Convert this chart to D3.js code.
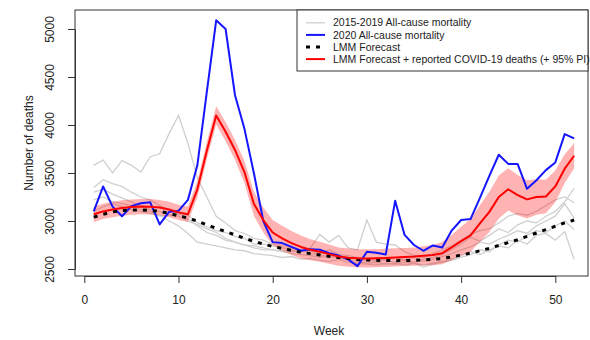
<!DOCTYPE html>
<html>
<head>
<meta charset="utf-8">
<script src="https://cdn.jsdelivr.net/npm/d3@7"></script>
<style>
  body { margin: 0; background: #fff; }
  svg { display: block; font-family: "Liberation Sans", Arial, sans-serif; }
</style>
</head>
<body>
<div id="chart"></div>
<script>
// ---- data ----
const weeks = d3.range(1, 53);

// 2015-2019 all-cause mortality, one array per year
const past1 = [3580,3635,3500,3630,3580,3510,3670,3700,3910,4100,3810,3450,3250,3050,2980,2900,2870,2820,2800,2760,
               2740,2720,2700,2690,2660,2700,2650,2640,2620,2600,2580,2600,2620,2590,2570,2600,2620,2650,2700,2760,
               2830,2790,2850,2920,2880,2960,3000,2980,3050,3100,3200,3340];
const past2 = [3350,3430,3390,3360,3300,3250,3220,3160,3120,3080,3060,2980,2940,2900,2880,2840,2820,2760,2760,2740,
               2720,2700,2680,2720,2860,2780,2850,2720,2700,3010,2780,2760,2750,2680,2640,2620,2660,2700,2740,2800,
               2860,2900,2920,2980,3050,3080,3060,3100,3160,3220,3250,3190];
const past3 = [3300,3330,3280,3240,3200,3150,3120,3100,3060,3050,3000,2960,2920,2880,2820,2780,2750,2720,2700,2700,
               2680,2660,2650,2640,2620,2640,2610,2600,2620,2580,2600,2590,2570,2600,2620,2580,2600,2630,2660,2700,
               2730,2780,2760,2810,2850,2900,2870,2950,3000,3050,3180,3030];
const past4 = [3220,3250,3200,3180,3160,3120,3100,3060,3000,2950,2870,2780,2760,2740,2720,2700,2690,2660,2650,2640,
               2620,2630,2600,2610,2590,2580,2600,2570,2560,2550,2540,2560,2550,2570,2560,2540,2560,2580,2600,2640,
               2680,2650,2700,2740,2720,2800,2760,2850,2870,2800,2890,2600];
const past5 = [3100,3150,3180,3150,3120,3100,3080,3050,3060,3080,3020,2950,2880,2850,2800,2780,2750,2740,2720,2700,
               2690,2680,2700,2660,2650,2620,2640,2600,2580,2560,2570,2550,2560,2540,2560,2520,2550,2570,2590,2620,
               2650,2700,2680,2750,2800,2780,2850,2900,2880,2950,3000,2910];

// 2020 all-cause mortality
const deaths2020 = [3100,3360,3150,3050,3155,3185,3195,2965,3095,3105,3220,3580,4340,5090,5000,4310,3960,3500,3000,2780,
                    2770,2730,2690,2705,2700,2665,2640,2600,2530,2680,2670,2650,3210,2855,2750,2690,2745,2725,2900,3010,
                    3020,3240,3470,3690,3595,3595,3335,3425,3530,3610,3905,3860];

// LMM forecast
const lmmForecast = [3040,3070,3095,3110,3115,3115,3110,3100,3080,3055,3030,3000,2960,2925,2890,2855,2820,2790,2760,2735,
                     2715,2695,2675,2660,2645,2632,2620,2610,2600,2595,2590,2588,2587,2588,2590,2595,2600,2610,2625,2645,
                     2665,2690,2715,2745,2775,2805,2840,2875,2910,2945,2980,3010];

// LMM forecast + reported COVID-19 deaths, and its 95% PI
const lmmCovid = [3070,3100,3120,3135,3145,3150,3148,3140,3120,3090,3070,3330,3730,4100,3930,3740,3510,3180,3010,2880,
                  2820,2770,2730,2700,2680,2655,2630,2618,2612,2610,2612,2615,2620,2625,2630,2638,2645,2665,2725,2790,
                  2850,2975,3095,3250,3330,3270,3225,3250,3255,3360,3545,3680];
const piLower = [2990,3020,3040,3055,3065,3070,3068,3060,3040,3010,2990,3245,3640,4005,3830,3635,3395,3055,2880,2750,
                 2690,2645,2610,2590,2575,2555,2535,2523,2517,2515,2517,2520,2525,2530,2535,2538,2540,2550,2595,2640,
                 2680,2785,2885,3025,3110,3060,3025,3065,3080,3195,3395,3550];
const piUpper = [3150,3180,3200,3215,3225,3230,3228,3220,3200,3170,3150,3415,3820,4195,4030,3845,3625,3305,3140,3010,
                 2950,2895,2850,2810,2785,2755,2725,2713,2707,2705,2707,2710,2715,2720,2725,2738,2750,2780,2855,2940,
                 3020,3165,3305,3475,3550,3480,3425,3435,3430,3525,3695,3810];

const xTicks = [0, 10, 20, 30, 40, 50];
const yTicks = [2500, 3000, 3500, 4000, 4500, 5000];

const legendItems = [
  { label: "2015-2019 All-cause mortality", color: "#cfcfcf", width: 1.3, dash: null },
  { label: "2020 All-cause mortality", color: "#1515ff", width: 2, dash: null },
  { label: "LMM Forecast", color: "#000", width: 3, dash: "4,6" },
  { label: "LMM Forecast + reported COVID-19 deaths (+ 95% PI)", color: "#ff0000", width: 2, dash: null },
];

// ---- layout ----
const W = 590, H = 340;
const box = { left: 75, top: 10, right: 588, bottom: 276 };

const x = d3.scaleLinear().domain([0, 50]).range([84.3, 555.3]);
const y = d3.scaleLinear().domain([2500, 5000]).range([269, 29]);

const svg = d3.select("#chart")
  .append("svg")
  .attr("width", W)
  .attr("height", H)
  ;

// series as lines
const line = d3.line()
  .x((d, i) => x(weeks[i]))
  .y(d => y(d))
  ;

const band = d3.area()
  .x((d, i) => x(weeks[i]))
  .y0((d, i) => y(piLower[i]))
  .y1((d, i) => y(piUpper[i]))
  ;

// grey past years first so they sit at the bottom
svg.append("g")
  .attr("class", "past")
  .selectAll("path")
  .data([past1, past2, past3, past4, past5])
  .join("path")
    .attr("d", line)
    .attr("fill", "none")
    .attr("stroke", "#cfcfcf")
    .attr("stroke-width", 1.3)
  ;

// prediction interval
svg.append("path")
  .attr("d", band(lmmCovid))
  .attr("fill", "rgba(255,20,20,0.32)")
  .attr("stroke", "none")
  ;

svg.append("path")
  .attr("d", line(deaths2020))
  .attr("fill", "none")
  .attr("stroke", "#1515ff")
  .attr("stroke-width", 2)
  .attr("stroke-linejoin", "round")
  ;

svg.append("path")
  .attr("d", line(lmmForecast))
  .attr("fill", "none")
  .attr("stroke", "#000")
  .attr("stroke-width", 3)
  .attr("stroke-dasharray", "4,6")
  ;

svg.append("path")
  .attr("d", line(lmmCovid))
  .attr("fill", "none")
  .attr("stroke", "#ff0000")
  .attr("stroke-width", 2)
  .attr("stroke-linejoin", "round")
  ;

// plot frame
svg.append("rect")
  .attr("x", box.left)
  .attr("y", box.top)
  .attr("width", box.right - box.left)
  .attr("height", box.bottom - box.top)
  .attr("fill", "none")
  .attr("stroke", "#333")
  .attr("stroke-width", 1)
  ;

// axes
const xAxis = svg.append("g")
  .attr("transform", `translate(0,${box.bottom})`)
  .call(d3.axisBottom(x).tickValues(xTicks).tickSize(7).tickSizeOuter(0).tickFormat(d3.format("d")))
  ;
xAxis.select(".domain").attr("stroke", "#333");
xAxis.selectAll(".tick line").attr("stroke", "#333");
xAxis.selectAll("text")
  .attr("y", 19)
  .attr("font-size", 12)
  .attr("font-family", "Liberation Sans, Arial, sans-serif")
  .attr("fill", "#222")
  ;

const yAxis = svg.append("g")
  .attr("transform", `translate(${box.left},0)`)
  .call(d3.axisLeft(y).tickValues(yTicks).tickSize(7).tickSizeOuter(0).tickFormat(d3.format("d")))
  ;
yAxis.select(".domain").attr("stroke", "#333");
yAxis.selectAll(".tick line").attr("stroke", "#333");
yAxis.selectAll("text")
  .attr("transform", "rotate(-90)")
  .attr("x", 0)
  .attr("y", -25)
  .attr("dy", "0.35em")
  .attr("text-anchor", "middle")
  .attr("font-size", 12)
  .attr("font-family", "Liberation Sans, Arial, sans-serif")
  .attr("fill", "#222")
  ;

// axis titles
svg.append("text")
  .attr("x", 329)
  .attr("y", 335)
  .attr("text-anchor", "middle")
  .attr("font-size", 12)
  .attr("fill", "#222")
  .text("Week")
  ;

svg.append("text")
  .attr("transform", "translate(33,143) rotate(-90)")
  .attr("text-anchor", "middle")
  .attr("font-size", 12)
  .attr("fill", "#222")
  .text("Number of deaths")
  ;

// legend (top right, sharing the frame corner)
const legend = svg.append("g").attr("class", "legend");
legend.append("rect")
  .attr("x", 297)
  .attr("y", box.top)
  .attr("width", box.right - 297)
  .attr("height", 61)
  .attr("fill", "#fff")
  .attr("stroke", "#333")
  ;

legend.selectAll("g.item")
  .data(legendItems)
  .join(enter => {
    const g = enter.append("g")
      .attr("class", "item")
      .attr("transform", (d, i) => `translate(0,${22.8 + i * 12.1})`);
    g.append("line")
      .attr("x1", 306)
      .attr("x2", 325)
      .attr("stroke", d => d.color)
      .attr("stroke-width", d => d.width)
      .attr("stroke-dasharray", d => d.dash);
    g.append("text")
      .attr("x", 333)
      .attr("dy", "0.35em")
      .attr("font-size", 10.5)
      .attr("fill", "#222")
      .text(d => d.label);
    return g;
  })
  ;
</script>
</body>
</html>
